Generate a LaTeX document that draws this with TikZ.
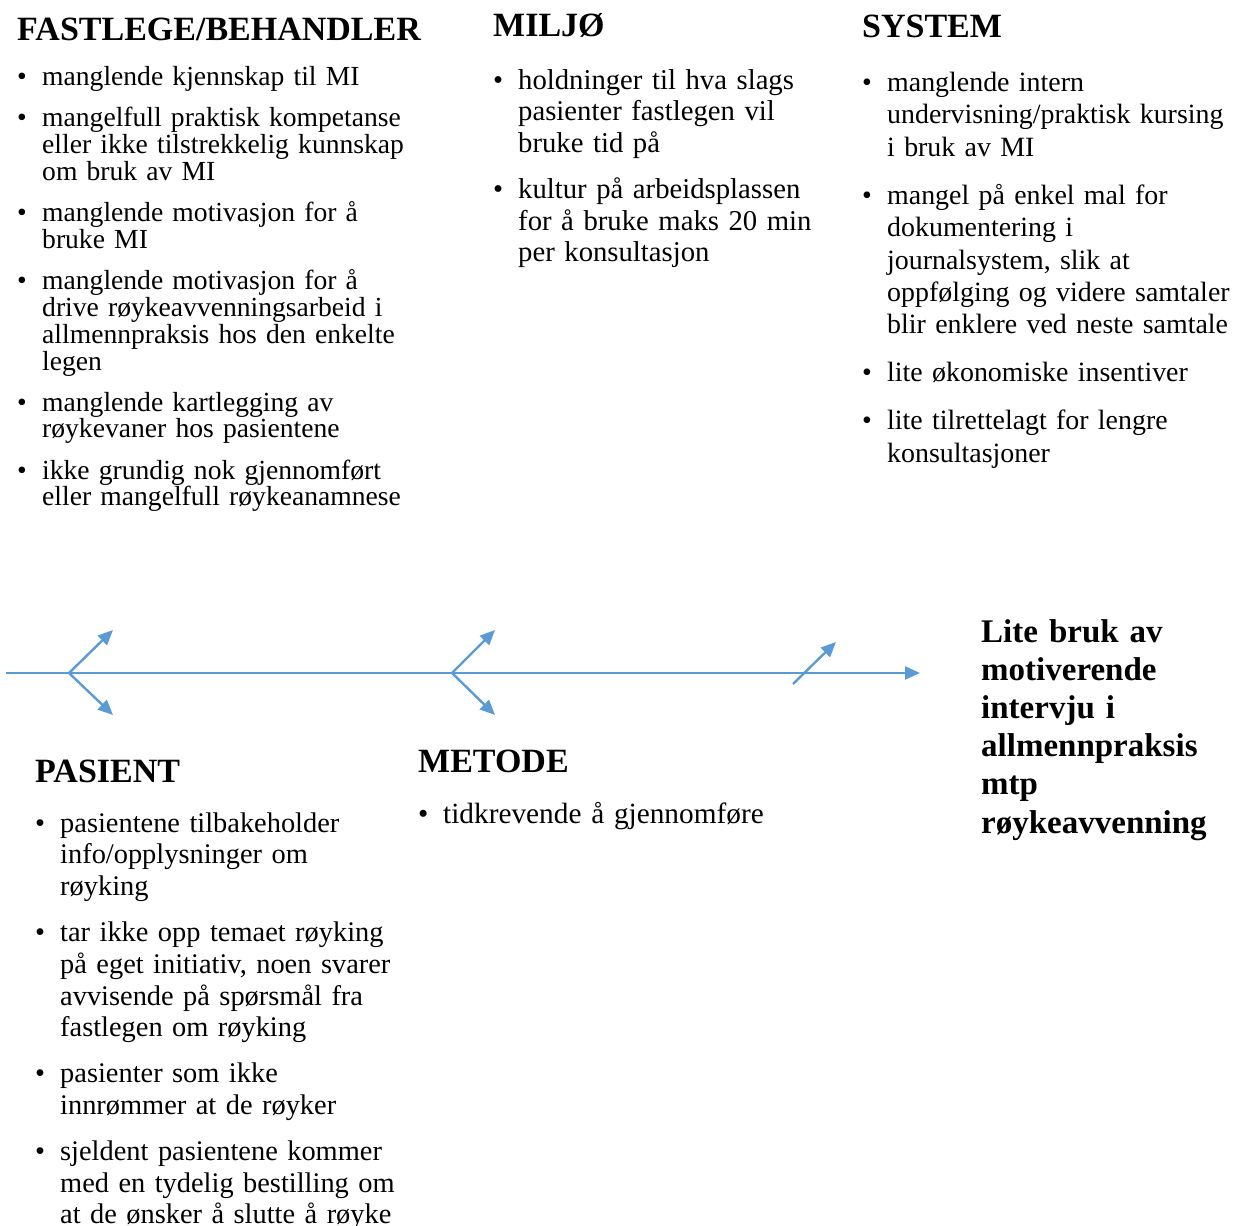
\documentclass[tikz,border=0pt]{standalone}
\usepackage{fontspec}
\setmainfont{Liberation Serif}
\usetikzlibrary{arrows.meta,positioning}
\definecolor{boneblue}{RGB}{91,155,213}
\newcommand{\bpt}{\hangindent=25pt\hangafter=1\noindent\makebox[25pt][l]{\textbullet}}

\begin{document}
\begin{tikzpicture}[x=1pt,y=-1pt]
	\tikzstyle{head} = [anchor=base west, inner sep=0pt, font=\fontsize{34}{40}\selectfont\bfseries]
	\tikzstyle{causes} = [anchor=base west, inner sep=0pt, text width=420pt]
	\tikzstyle{bone} = [draw=boneblue, line width=2.4pt, -{Triangle[length=15pt,width=13pt]}]
	\useasboundingbox (0,0) rectangle (1235,1226);

	% upper causes
	\node[head] (H1) at (17,40) {FASTLEGE/BEHANDLER};
	\node[causes, font=\fontsize{27.6}{27}\selectfont] (C1) at (17,85) {\parskip=14pt
		\bpt manglende kjennskap til MI

		\bpt mangelfull praktisk kompetanse\newline eller ikke tilstrekkelig kunnskap\newline om bruk av MI

		\bpt manglende motivasjon for å\newline bruke MI

		\bpt manglende motivasjon for å\newline drive røykeavvenningsarbeid i\newline allmennpraksis hos den enkelte\newline legen

		\bpt manglende kartlegging av\newline røykevaner hos pasientene

		\bpt ikke grundig nok gjennomført\newline eller mangelfull røykeanamnese\par};

	\node[head] (H2) at (493,36) {MILJØ};
	\node[causes, font=\fontsize{28.7}{31.5}\selectfont] (C2) at (493,89) {\parskip=15pt
		\bpt holdninger til hva slags\newline pasienter fastlegen vil\newline bruke tid på

		\bpt kultur på arbeidsplassen\newline for å bruke maks 20 min\newline per konsultasjon\par};

	\node[head] (H3) at (862,37) {SYSTEM};
	\node[causes, font=\fontsize{27.9}{32.5}\selectfont] (C3) at (862,91) {\parskip=15.5pt
		\bpt manglende intern\newline undervisning/praktisk kursing\newline i bruk av MI

		\bpt mangel på enkel mal for\newline dokumentering i\newline journalsystem, slik at\newline oppfølging og videre samtaler\newline blir enklere ved neste samtale

		\bpt lite økonomiske insentiver

		\bpt lite tilrettelagt for lengre\newline konsultasjoner\par};

	% lower causes
	\node[head] (H4) at (35,782) {PASIENT};
	\node[causes, font=\fontsize{28.4}{31.8}\selectfont] (C4) at (35,832) {\parskip=14pt
		\bpt pasientene tilbakeholder\newline info/opplysninger om\newline røyking

		\bpt tar ikke opp temaet røyking\newline på eget initiativ, noen svarer\newline avvisende på spørsmål fra\newline fastlegen om røyking

		\bpt pasienter som ikke\newline innrømmer at de røyker

		\bpt sjeldent pasientene kommer\newline med en tydelig bestilling om\newline at de ønsker å slutte å røyke\par};

	\node[head] (H5) at (418,772) {METODE};
	\node[causes, font=\fontsize{29.3}{31.8}\selectfont] (C5) at (418,823) {\bpt tidkrevende å gjennomføre\par};

	% effect
	\node[anchor=base west, inner sep=0pt, text width=250pt, align=left, font=\fontsize{33}{38.2}\selectfont\bfseries] (effect) at (981,642)
	{Lite bruk av\\ motiverende\\ intervju i\\ allmennpraksis\\ mtp\\ røykeavvenning};

	% spine and bones
	\coordinate (tail) at (6,673);
	\coordinate (tip) at (920,673);
	\coordinate (J1) at (69,673);
	\coordinate (J1u) at (113,630);
	\coordinate (J1d) at (113,715);
	\coordinate (J2) at (452,673);
	\coordinate (J2u) at (495,630);
	\coordinate (J2d) at (495,715);
	\coordinate (J3) at (793,684);
	\coordinate (J3u) at (836,642);

	\draw[bone] (tail) -- (tip);
	\draw[bone] (J1) -- (J1u);
	\draw[bone] (J1) -- (J1d);
	\draw[bone] (J2) -- (J2u);
	\draw[bone] (J2) -- (J2d);
	\draw[bone] (J3) -- (J3u);
\end{tikzpicture}
\end{document}
